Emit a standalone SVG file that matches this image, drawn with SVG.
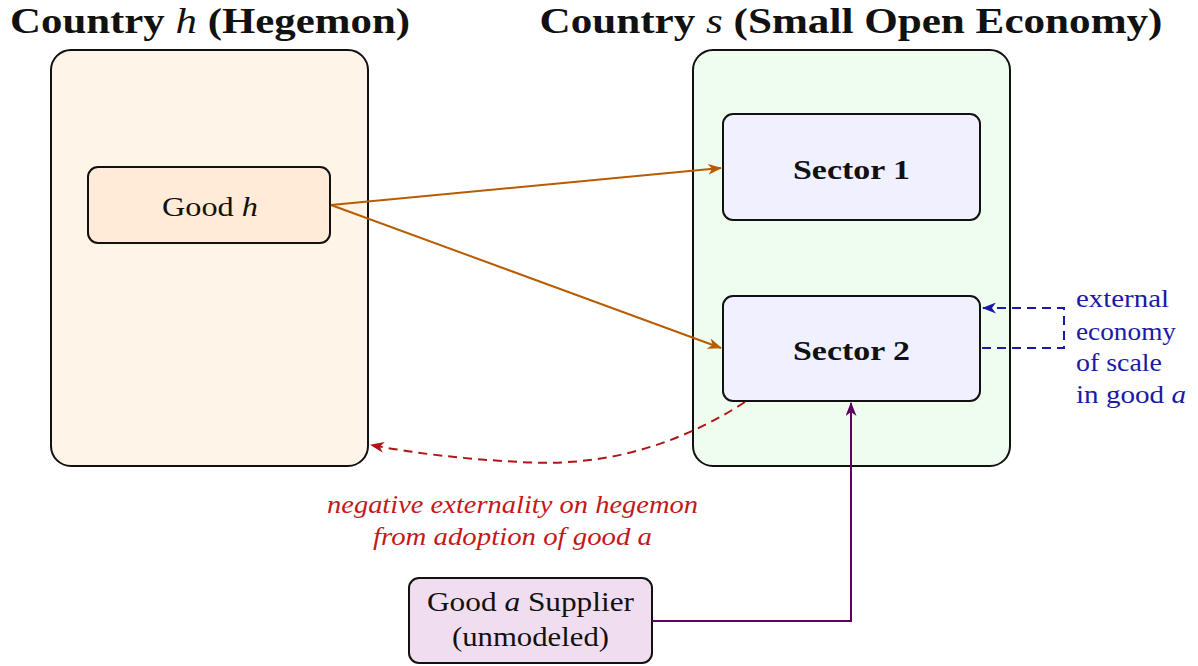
<svg xmlns="http://www.w3.org/2000/svg" width="1198" height="666" viewBox="0 0 1198 666">
<defs>
<style>
text{font-family:"Liberation Serif","DejaVu Serif",serif;fill:#111}
.title{font-size:36px;font-weight:bold}
.node{stroke:#111;stroke-width:2}
.lbl{font-size:28px;text-anchor:middle}
.bold{font-weight:bold}
.c{fill:none;stroke-width:2}
.red{font-size:26px;font-style:italic;text-anchor:middle;fill:#c21a1a}
.blue{font-size:26px;fill:#1a1aa6}
</style>
<marker id="aO" viewBox="0 0 14 11" refX="13" refY="5.5" markerWidth="14" markerHeight="11" markerUnits="userSpaceOnUse" orient="auto"><path d="M0,0 L14,5.5 L0,11 L4,5.5 Z" fill="#b85c00"/></marker>
<marker id="aR" viewBox="0 0 14 11" refX="13" refY="5.5" markerWidth="14" markerHeight="11" markerUnits="userSpaceOnUse" orient="auto"><path d="M0,0 L14,5.5 L0,11 L4,5.5 Z" fill="#b01414"/></marker>
<marker id="aB" viewBox="0 0 14 11" refX="13" refY="5.5" markerWidth="14" markerHeight="11" markerUnits="userSpaceOnUse" orient="auto"><path d="M0,0 L14,5.5 L0,11 L4,5.5 Z" fill="#1a1aa6"/></marker>
<marker id="aP" viewBox="0 0 14 11" refX="13" refY="5.5" markerWidth="14" markerHeight="11" markerUnits="userSpaceOnUse" orient="auto"><path d="M0,0 L14,5.5 L0,11 L4,5.5 Z" fill="#5e005e"/></marker>
</defs>
<g id="title-h"><text class="title" x="210" y="33" text-anchor="middle" textLength="400" lengthAdjust="spacingAndGlyphs">Country <tspan font-style="italic" font-weight="normal">h</tspan> (Hegemon)</text></g>
<g id="title-s"><text class="title" x="851" y="33" text-anchor="middle" textLength="623" lengthAdjust="spacingAndGlyphs">Country <tspan font-style="italic" font-weight="normal">s</tspan> (Small Open Economy)</text></g>
<g id="hegemon"><rect class="node" x="51" y="50" width="317" height="416" rx="20" fill="#fff4e8"/></g>
<g id="soe"><rect class="node" x="693" y="50" width="317" height="416" rx="20" fill="#effdef"/></g>
<g id="good-h"><rect class="node" x="88" y="167" width="242" height="76" rx="10" fill="#ffebd8"/><text class="lbl" x="210" y="216" textLength="96" lengthAdjust="spacingAndGlyphs">Good <tspan font-style="italic">h</tspan></text></g>
<g id="sector1"><rect class="node" x="723" y="114" width="257" height="106" rx="10" fill="#f0f0ff"/><text class="lbl bold" x="851.5" y="179" textLength="117" lengthAdjust="spacingAndGlyphs">Sector 1</text></g>
<g id="sector2"><rect class="node" x="723" y="296" width="257" height="105" rx="10" fill="#f0f0ff"/><text class="lbl bold" x="851.5" y="360" textLength="117" lengthAdjust="spacingAndGlyphs">Sector 2</text></g>
<g id="supplier"><rect class="node" x="409" y="578" width="243" height="85" rx="10" fill="#f0ddef"/><text class="lbl" x="530.5" y="611" textLength="207" lengthAdjust="spacingAndGlyphs">Good <tspan font-style="italic">a</tspan> Supplier</text><text class="lbl" x="530.5" y="646" textLength="157" lengthAdjust="spacingAndGlyphs">(unmodeled)</text></g>
<g id="connectors">
<path class="c" d="M331,205 L721,168" stroke="#b85c00" marker-end="url(#aO)"/>
<path class="c" d="M331,205 L721,348" stroke="#b85c00" marker-end="url(#aO)"/>
<path class="c" d="M745,402 Q640,470 520,462 Q440,458 371,445" stroke="#b01414" stroke-dasharray="9,6" marker-end="url(#aR)"/>
<path class="c" d="M982,348 L1064,348 L1064,308 L983,308" stroke="#1a1aa6" stroke-dasharray="9,6" marker-end="url(#aB)"/>
<path class="c" d="M652,621 L851,621 L851,403" stroke="#5e005e" marker-end="url(#aP)"/>
</g>
<g id="labels">
<text class="red" x="512.5" y="513" textLength="371" lengthAdjust="spacingAndGlyphs">negative externality on hegemon</text>
<text class="red" x="512.5" y="545" textLength="279" lengthAdjust="spacingAndGlyphs">from adoption of good a</text>
<text class="blue" x="1076" y="307" textLength="93" lengthAdjust="spacingAndGlyphs">external</text>
<text class="blue" x="1076" y="340" textLength="100" lengthAdjust="spacingAndGlyphs">economy</text>
<text class="blue" x="1076" y="371" textLength="86" lengthAdjust="spacingAndGlyphs">of scale</text>
<text class="blue" x="1076" y="403" textLength="110" lengthAdjust="spacingAndGlyphs">in good <tspan font-style="italic">a</tspan></text>
</g>
</svg>
